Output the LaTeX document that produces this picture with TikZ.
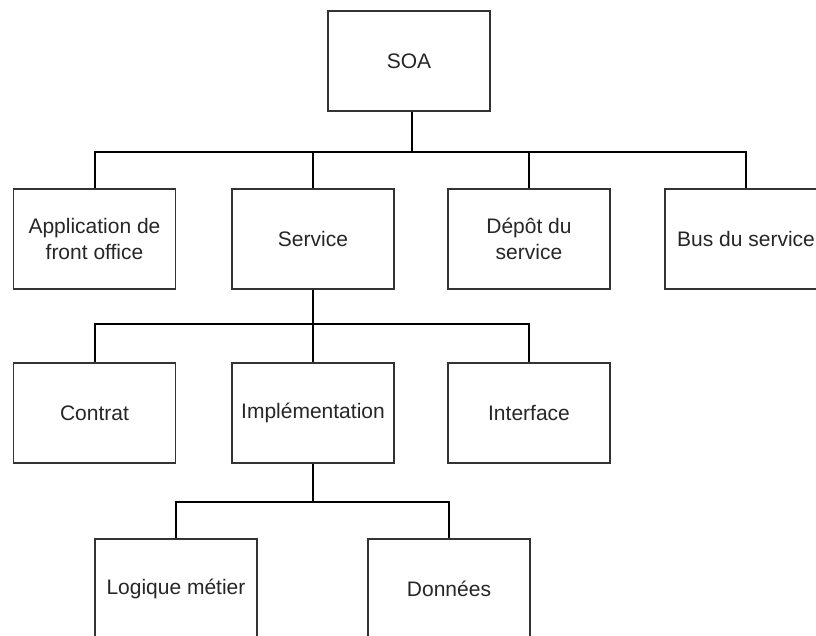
\documentclass[tikz,border=0pt]{standalone}
\usepackage{fontspec}
\setmainfont{Liberation Sans}
\begin{document}
\begin{tikzpicture}[x=1pt,y=-1pt,
  box/.style={draw=black!80, line width=1.2pt, minimum width=162pt, minimum height=100pt,
    inner sep=0pt, align=center, text=black!85, font=\fontsize{21}{26}\selectfont},
  link/.style={draw=black, line width=2pt}]
\useasboundingbox (0,0) rectangle (816,636);
\fill[white] (0,0) rectangle (816,636);
\clip (0,0) rectangle (816,636);

% root
\node[box] (soa) at (409,61) {SOA};

% first level
\node[box] (app) at (94.5,239) {Application de\\front office};
\node[box] (svc) at (313,239) {Service};
\node[box] (dep) at (529,239) {Dépôt du\\service};
\node[box] (bus) at (746,239) {Bus du service};

% second level
\node[box] (ctr) at (94.5,413) {Contrat};
\node[box] (imp) at (313,413) {Implémentation};
\node[box] (itf) at (529,413) {Interface};

% third level
\node[box] (log) at (176,589) {Logique métier};
\node[box] (don) at (449,589) {Données};

% junction points of the branch lines
\coordinate (j1) at (412,152);
\coordinate (j2) at (313,324);
\coordinate (j3) at (313,502);

% connectors
\draw[link] (soa.south -| j1) -- (j1);
\draw[link] (j1) -| (app.north);
\draw[link] (j1) -| (svc.north);
\draw[link] (j1) -| (dep.north);
\draw[link] (j1) -| (bus.north);

\draw[link] (svc.south) -- (j2);
\draw[link] (j2) -| (ctr.north);
\draw[link] (j2) -- (imp.north);
\draw[link] (j2) -| (itf.north);

\draw[link] (imp.south) -- (j3);
\draw[link] (j3) -| (log.north);
\draw[link] (j3) -| (don.north);
\end{tikzpicture}
\end{document}
